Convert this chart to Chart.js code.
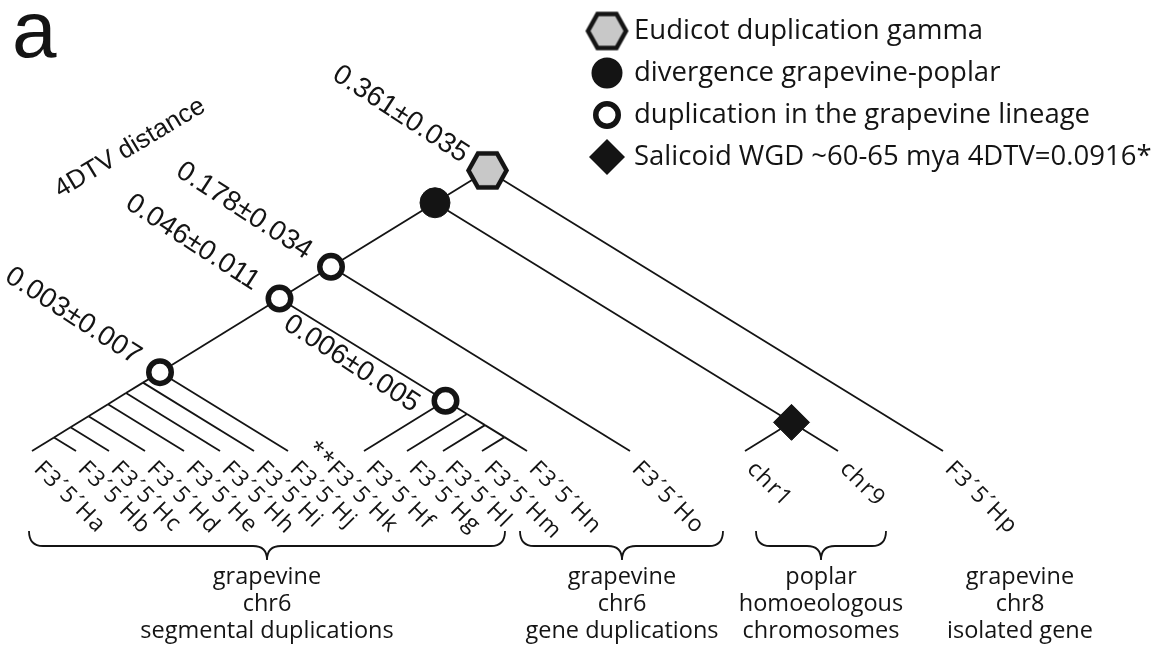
<!DOCTYPE html>
<html>
<head>
<meta charset="utf-8">
<title>4DTV distance tree</title>
<script src="https://cdn.jsdelivr.net/npm/chart.js@4.4.1/dist/chart.umd.min.js"></script>
<style>
    html, body { margin: 0; padding: 0; background: #ffffff; }
    #wrap { position: relative; width: 1169px; height: 645px; }
</style>
</head>
<body>
<div id="wrap"><canvas id="treeChart"></canvas></div>
<script>
// --- data -------------------------------------------------------------
// tree topology, as a Newick string (internal nodes are named)
const newick = '((((((((((((Ha,Hb),Hc),Hd),He),Hh),Hi),Hj)d003,(Hf,(Hg,(Hl,(Hm,Hn))))d006)d046,Ho)d178,(chr1,chr9)wgd)div,Hp)gamma;';

// leaves in drawing order, their labels and their place along the base line
const leafIds = ['Ha', 'Hb', 'Hc', 'Hd', 'He', 'Hh', 'Hi', 'Hj', 'Hk', 'Hf', 'Hg', 'Hl', 'Hm', 'Hn', 'Ho', 'chr1', 'chr9', 'Hp'];
const leafLabels = ['F3´5´Ha', 'F3´5´Hb', 'F3´5´Hc', 'F3´5´Hd', 'F3´5´He', 'F3´5´Hh', 'F3´5´Hi', 'F3´5´Hj', '**F3´5´Hk',
    'F3´5´Hf', 'F3´5´Hg', 'F3´5´Hl', 'F3´5´Hm', 'F3´5´Hn', 'F3´5´Ho', 'chr1', 'chr9', 'F3´5´Hp'];
const leafPos = [32, 76, 109, 145, 184, 220, 254, 288, 325, 364, 407, 443, 482, 527, 630, 745, 838, 943];

// event markers on the internal nodes
const gammaNodes = ['gamma'];
const divergenceNodes = ['div'];
const duplicationNodes = ['d178', 'd046', 'd003', 'd006'];
const salicoidNodes = ['wgd'];

// 4DTV distances written next to the nodes
const distNodes = ['gamma', 'd178', 'd046', 'd003', 'd006'];
const distMean = [0.361, 0.178, 0.046, 0.003, 0.006];
const distErr = [0.035, 0.034, 0.011, 0.007, 0.005];

const legendLabels = ['Eudicot duplication gamma', 'divergence grapevine-poplar',
    'duplication in the grapevine lineage', 'Salicoid WGD ~60-65 mya 4DTV=0.0916*'];

const groupCaptions = [
    ['grapevine', 'chr6', 'segmental duplications'],
    ['grapevine', 'chr6', 'gene duplications'],
    ['poplar', 'homoeologous', 'chromosomes'],
    ['grapevine', 'chr8', 'isolated gene']
];
const axisCaption = '4DTV distance';
const panelLetter = 'a';

// --- layout / style ----------------------------------------------------
const RISE = 0.308;                      // node height per unit of leaf span
const INK = '#141414';
const LINE_W = 1.8;
const NODE_ANGLE = 33 * Math.PI / 180;
const LEAF_ANGLE = Math.PI / 4;
const groupCentre = [267, 622, 821, 1020];
const braceSpan = [[29, 505], [520, 723], [756, 886], null];
const legendRows = [31, 73, 115, 157];
const nodeLabelShift = { default: [-87, -56], d006: [-94, -37] };

const arial = '"Liberation Sans", Arial, sans-serif';
const myriad = '"Open Sans", "Liberation Sans", sans-serif';

// --- tree helpers ------------------------------------------------------
function parseNewick(s) {
    let i = 0;
    function node() {
        const n = { name: '', children: [] };
        if (s[i] === '(') {
            i++;
            n.children.push(node());
            while (s[i] === ',') { i++; n.children.push(node()); }
            i++;
        }
        while (i < s.length && !',();'.includes(s[i])) n.name += s[i++];
        return n;
    }
    return node();
}

const posOf = {};
leafIds.forEach((id, i) => { posOf[id] = leafPos[i]; });

const root = parseNewick(newick);
const byName = {};
const edges = [];

function layout(n) {
    if (!n.children.length) {
        n.lo = n.hi = posOf[n.name];
    } else {
        n.children.forEach(layout);
        n.lo = Math.min(...n.children.map(c => c.lo));
        n.hi = Math.max(...n.children.map(c => c.hi));
    }
    n.x = (n.lo + n.hi) / 2;
    n.h = (n.hi - n.lo) * RISE;
    byName[n.name] = n;
}
layout(root);

(function walk(n) {
    n.children.forEach(c => {
        edges.push([{ x: n.x, y: n.h }, { x: c.x, y: c.h }]);
        walk(c);
    });
})(root);

const pts = ids => ids.map(id => ({ x: byName[id].x, y: byName[id].h }));

function hexagon(w, fill, stroke, lw) {
    const R = w / 2, hh = R * 0.9;
    const c = document.createElement('canvas');
    c.width = Math.ceil(2 * R + lw + 2);
    c.height = Math.ceil(2 * hh + lw + 2);
    const g = c.getContext('2d');
    const cx = c.width / 2, cy = c.height / 2;
    g.beginPath();
    g.moveTo(cx - R, cy);
    g.lineTo(cx - R / 2, cy - hh);
    g.lineTo(cx + R / 2, cy - hh);
    g.lineTo(cx + R, cy);
    g.lineTo(cx + R / 2, cy + hh);
    g.lineTo(cx - R / 2, cy + hh);
    g.closePath();
    g.fillStyle = fill;
    g.fill();
    g.lineWidth = lw;
    g.strokeStyle = stroke;
    g.stroke();
    return c;
}
const hexImg = hexagon(38, '#c8c8c8', INK, 4.5);

// --- datasets ----------------------------------------------------------
const markerSets = [
    { label: legendLabels[0], data: pts(gammaNodes), pointStyle: hexImg, pointRadius: 20 },
    { label: legendLabels[1], data: pts(divergenceNodes), pointStyle: 'circle', pointRadius: 15,
      backgroundColor: INK, borderColor: INK, borderWidth: 1 },
    { label: legendLabels[2], data: pts(duplicationNodes), pointStyle: 'circle', pointRadius: 11.25,
      backgroundColor: '#ffffff', borderColor: INK, borderWidth: 5.5 },
    { label: legendLabels[3], data: pts(salicoidNodes), pointStyle: 'rectRot', pointRadius: 18,
      backgroundColor: INK, borderColor: INK, borderWidth: 1 }
].map(d => Object.assign({ order: 0, showLine: false }, d));

const edgeSets = edges.map(e => ({
    data: e,
    showLine: true,
    borderColor: INK,
    borderWidth: LINE_W,
    pointRadius: 0,
    order: 1
}));

// --- text, braces and key ----------------------------------------------
function rotatedText(ctx, text, x, y, angle, align, base, font, spacing) {
    ctx.save();
    ctx.translate(x, y);
    ctx.rotate(angle);
    ctx.font = font;
    ctx.letterSpacing = spacing || '0px';
    ctx.textAlign = align;
    ctx.textBaseline = base;
    ctx.fillText(text, 0, 0);
    ctx.restore();
}

function brace(ctx, x0, x1, xc, y0, y1, y2) {
    const r = 14;
    ctx.beginPath();
    ctx.moveTo(x0, y0);
    ctx.quadraticCurveTo(x0, y1, x0 + r, y1);
    ctx.lineTo(xc - r, y1);
    ctx.quadraticCurveTo(xc, y1, xc, y2);
    ctx.quadraticCurveTo(xc, y1, xc + r, y1);
    ctx.lineTo(x1 - r, y1);
    ctx.quadraticCurveTo(x1, y1, x1, y0);
    ctx.stroke();
}

const treeText = {
    id: 'treeText',
    afterDatasetsDraw(chart) {
        const { ctx } = chart;
        const xs = chart.scales.x, ys = chart.scales.y;
        ctx.save();
        ctx.fillStyle = INK;
        ctx.strokeStyle = INK;

        ctx.font = '80px ' + arial;
        ctx.textAlign = 'left';
        ctx.textBaseline = 'alphabetic';
        ctx.fillText(panelLetter, 12, 57);

        rotatedText(ctx, axisCaption, 130, 148, -31 * Math.PI / 180, 'center', 'middle', '26px ' + arial);

        distNodes.forEach((id, i) => {
            const n = byName[id];
            const off = nodeLabelShift[id] || nodeLabelShift.default;
            const txt = distMean[i].toFixed(3) + '±' + distErr[i].toFixed(3);
            rotatedText(ctx, txt, xs.getPixelForValue(n.x) + off[0], ys.getPixelForValue(n.h) + off[1],
                NODE_ANGLE, 'center', 'middle', '28px ' + arial);
        });

        const leafFont = '23px ' + myriad;
        const leafSpacing = 1.5;
        ctx.font = leafFont;
        leafIds.forEach((id, i) => {
            const txt = leafLabels[i];
            const stars = txt.match(/^\*+/);
            const back = stars ? ctx.measureText(stars[0]).width + leafSpacing * stars[0].length : 0;
            const px = xs.getPixelForValue(leafPos[i]) + 1 - back * Math.cos(LEAF_ANGLE);
            const py = ys.getPixelForValue(0) + 19 - back * Math.sin(LEAF_ANGLE);
            rotatedText(ctx, txt, px, py, LEAF_ANGLE, 'left', 'alphabetic', leafFont, leafSpacing + 'px');
        });

        ctx.lineWidth = 1.8;
        braceSpan.forEach((s, i) => {
            if (!s) return;
            brace(ctx, xs.getPixelForValue(s[0]), xs.getPixelForValue(s[1]), xs.getPixelForValue(groupCentre[i]), 531, 546, 560);
        });

        ctx.font = '23.5px ' + myriad;
        ctx.textAlign = 'center';
        ctx.textBaseline = 'alphabetic';
        groupCaptions.forEach((lines, i) => {
            lines.forEach((t, k) => ctx.fillText(t, xs.getPixelForValue(groupCentre[i]), 584 + k * 27));
        });

        // key
        const kx = 607;
        ctx.drawImage(hexImg, kx - hexImg.width / 2, legendRows[0] - hexImg.height / 2);
        ctx.beginPath();
        ctx.arc(kx, legendRows[1], 15.5, 0, Math.PI * 2);
        ctx.fill();
        ctx.beginPath();
        ctx.arc(kx, legendRows[2], 11.25, 0, Math.PI * 2);
        ctx.fillStyle = '#ffffff';
        ctx.fill();
        ctx.lineWidth = 5.5;
        ctx.stroke();
        ctx.fillStyle = INK;
        ctx.beginPath();
        ctx.moveTo(kx - 18, legendRows[3]);
        ctx.lineTo(kx, legendRows[3] - 18);
        ctx.lineTo(kx + 18, legendRows[3]);
        ctx.lineTo(kx, legendRows[3] + 18);
        ctx.closePath();
        ctx.fill();

        ctx.font = '27.5px ' + myriad;
        ctx.textAlign = 'left';
        ctx.textBaseline = 'middle';
        legendLabels.forEach((t, i) => ctx.fillText(t, 634, legendRows[i]));
        ctx.restore();
    }
};

// --- chart -------------------------------------------------------------
new Chart(document.getElementById('treeChart').getContext('2d'), {
    type: 'scatter',
    data: { datasets: markerSets.concat(edgeSets) },
    options: {
        responsive: true,
        maintainAspectRatio: false,
        animation: false,
        events: [],
        layout: { padding: 0, autoPadding: false },
        plugins: {
            legend: { display: false },
            tooltip: { enabled: false },
            title: { display: false }
        },
        scales: {
            x: { type: 'linear', min: 0, max: 1169, display: false },
            y: { type: 'linear', min: -194, max: 451, display: false }
        }
    },
    plugins: [treeText]
});
</script>
</body>
</html>
